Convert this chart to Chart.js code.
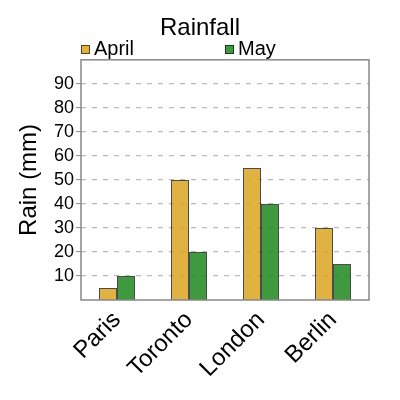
<!DOCTYPE html>
<html>
<head>
<meta charset="utf-8">
<script src="https://cdn.jsdelivr.net/npm/chart.js@4/dist/chart.umd.min.js"></script>
<style>
  html, body { margin: 0; padding: 0; background: #fff; }
  #wrap { width: 400px; height: 400px; }
</style>
</head>
<body>
<div id="wrap"><canvas id="c" width="400" height="400"></canvas></div>
<script>
const categories = ['Paris', 'Toronto', 'London', 'Berlin'];
const seriesNames = ['April', 'May'];
const aprilValues = [5, 50, 55, 30];
const mayValues = [10, 20, 40, 15];
const yTickValues = [10, 20, 30, 40, 50, 60, 70, 80, 90];

const FONT = "'Liberation Sans', Arial, sans-serif";

const framePlugin = {
  id: 'frame',
  afterDraw(chart) {
    const a = chart.chartArea, ctx = chart.ctx;
    ctx.save();
    ctx.strokeStyle = '#888';
    ctx.lineWidth = 1.5;
    ctx.setLineDash([]);
    ctx.strokeRect(a.left, a.top, a.right - a.left, a.bottom - a.top);
    ctx.restore();
  }
};

const legendPlugin = {
  id: 'colLegend',
  afterDraw(chart) {
    const a = chart.chartArea, ctx = chart.ctx;
    const colW = (a.right - a.left) / chart.data.datasets.length;
    ctx.save();
    chart.data.datasets.forEach((ds, i) => {
      const x = a.left + i * colW;
      ctx.fillStyle = ds.backgroundColor;
      ctx.fillRect(x, 45, 9, 9);
      ctx.strokeStyle = 'rgba(0,0,0,0.6)';
      ctx.lineWidth = 1;
      ctx.strokeRect(x + 0.5, 45.5, 8, 8);
      ctx.fillStyle = '#000';
      ctx.font = "20px " + FONT;
      ctx.textBaseline = 'middle';
      ctx.textAlign = 'left';
      ctx.fillText(ds.label, x + 13, 49);
    });
    ctx.restore();
  }
};

new Chart(document.getElementById('c'), {
  type: 'bar',
  data: {
    labels: categories,
    datasets: [
      {
        label: seriesNames[0],
        data: aprilValues,
        backgroundColor: 'rgba(218,165,32,0.85)',
        borderColor: 'rgba(0,0,0,0.7)',
        borderWidth: 1,
        yAxisID: 'y'
      },
      {
        label: seriesNames[1],
        data: mayValues,
        backgroundColor: 'rgba(34,139,34,0.87)',
        borderColor: 'rgba(0,0,0,0.7)',
        borderWidth: 1,
        yAxisID: 'y'
      }
    ]
  },
  options: {
    responsive: false,
    animation: false,
    devicePixelRatio: 1,
    layout: { padding: 0 },
    datasets: { bar: { categoryPercentage: 0.5, barPercentage: 1.0 } },
    plugins: {
      legend: { display: false },
      tooltip: { enabled: false },
      title: {
        display: true,
        text: 'Rainfall',
        color: '#000',
        font: { family: FONT, size: 24, weight: 'normal' },
        padding: { top: 14, bottom: 17 }
      }
    },
    scales: {
      x: {
        grid: { display: false, drawTicks: false },
        border: { display: false },
        ticks: {
          color: '#000',
          font: { family: FONT, size: 24 },
          minRotation: 45,
          maxRotation: 45,
          padding: 6
        },
        afterFit(scale) { scale.height = 100; }
      },
      y: {
        min: 0,
        max: 100,
        afterBuildTicks(scale) {
          scale.ticks = yTickValues.map(v => ({ value: v }));
        },
        grid: {
          color: '#bbb',
          lineWidth: 1.2,
          drawTicks: true,
          tickLength: 5,
          tickColor: '#888',
          tickBorderDash: [],
          tickWidth: 1
        },
        border: { display: false, dash: [5, 6] },
        ticks: {
          color: '#000',
          font: { family: FONT, size: 18 },
          padding: 2
        },
        title: {
          display: true,
          text: 'Rain (mm)',
          color: '#000',
          font: { family: FONT, size: 24 },
          padding: { top: 15, bottom: 0 }
        },
        afterFit(scale) { scale.width = 81; }
      },
      yRight: {
        position: 'right',
        display: true,
        min: 0,
        max: 100,
        grid: { display: false, drawTicks: false },
        border: { display: false },
        ticks: { display: false },
        afterFit(scale) { scale.width = 31; }
      }
    }
  },
  plugins: [framePlugin, legendPlugin]
});
</script>
</body>
</html>
